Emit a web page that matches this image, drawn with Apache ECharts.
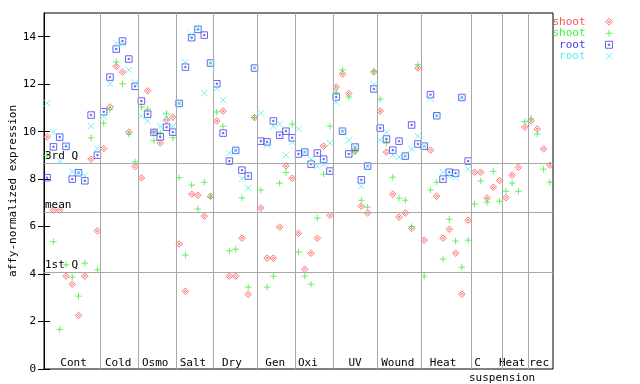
<!DOCTYPE html>
<html><head><meta charset="utf-8">
<script src="https://cdn.jsdelivr.net/npm/echarts@6/dist/echarts.min.js"></script>
<style>html,body{margin:0;padding:0;background:#fff}#c{width:640px;height:384px}</style>
</head><body><div id="c"></div>
<script>
// ---- data ----
const groupNames = ['Cont','Cold','Osmo','Salt','Dry','Gen','Oxi','UV','Wound','Heat','C','Heat','rec'];
const groupSizes = [9,6,6,6,7,6,6,7,7,8,5,4,4];
const xTickLabels = ['Cont','Cold','Osmo','Salt','Dry','Gen','Oxi','UV','Wound','Heat','C','Heat','rec'];
const xTickPositions = [4.7,11.8,17.7,23.7,29.9,36.8,42,49.5,56.3,63.5,69,74.5,78.8];
const xSubLabels = ['suspension'];
const xSubPositions = [72.9];
const yTicks = [0,2,4,6,8,10,12,14];
const seriesLabels = ['shoot','shoot','root','root'];
const refValues = [8.69, 6.62, 4.09];
const refLabels = ['3rd Q','mean','1st Q'];

const shootRed = [9.78,6.69,6.69,3.91,3.57,2.26,3.91,8.84,5.82,
 9.29,11.04,12.75,12.51,9.98,8.53,
 8.05,11.72,9.97,9.52,10.49,10.61,
 5.27,3.28,7.37,7.32,6.44,7.28,
 10.45,10.87,3.91,3.91,5.51,3.15,10.59,
 6.78,4.67,4.67,5.98,8.56,8.04,
 5.72,4.2,4.88,5.51,9.39,6.48,
 11.88,12.43,11.61,9.18,6.86,6.57,12.51,
 10.87,9.14,7.37,6.4,6.57,5.92,12.68,
 5.43,9.22,7.28,5.51,5.89,4.88,3.15,6.27,
 8.29,8.29,7.2,7.66,7.94,
 7.22,8.17,8.5,10.19,
 10.46,10.11,9.27,8.59];
const shootGreen = [9.0,5.36,1.67,4.39,3.87,3.07,4.46,9.74,4.18,
 10.36,10.93,12.94,12.02,9.9,8.73,
 11.04,10.95,9.62,9.94,10.77,9.74,
 8.06,4.8,7.75,6.74,7.87,7.24,
 10.83,10.23,4.98,5.05,7.21,3.45,10.6,
 7.54,3.45,3.91,7.83,8.28,10.32,
 4.93,3.91,3.57,6.36,8.21,10.23,
 11.67,12.6,11.46,9.15,7.11,6.82,12.55,
 11.37,9.52,8.08,7.2,7.11,6.0,12.82,
 3.91,7.54,7.87,4.63,6.31,5.39,4.29,5.43,
 6.95,7.92,7.03,8.33,7.07,
 7.49,7.83,7.49,10.42,
 10.54,9.9,8.42,7.87];
const rootBlue = [8.06,9.36,9.77,9.38,8.0,8.27,7.93,10.7,9.01,
 10.84,12.3,13.48,13.82,13.06,11.91,
 11.29,10.74,9.97,9.78,10.19,9.98,
 11.19,12.72,13.96,14.31,14.07,12.89,
 12.02,9.94,8.76,9.21,8.38,8.13,12.68,
 9.6,9.57,10.45,9.85,10.02,9.74,
 9.06,9.14,8.63,9.1,8.84,8.34,
 11.46,10.02,9.06,9.35,7.97,8.55,11.8,
 10.15,9.69,9.22,9.6,8.97,10.28,9.48,
 9.39,11.56,10.67,8.0,8.29,8.25,11.44,8.76,
 null,null,null,null,null,
 null,null,null,null,
 null,null,null,null];
const rootCyan = [11.2,9.98,8.77,9.43,8.32,8.27,8.14,10.23,9.29,
 10.64,12.02,13.73,13.69,12.6,12.06,
 10.66,10.45,9.95,10.23,10.61,10.23,
 11.19,12.92,14.1,14.35,11.63,12.89,
 11.82,11.33,9.1,9.21,8.02,7.62,12.7,
 10.78,9.43,10.23,10.32,9.01,9.56,
 10.11,9.14,8.84,8.55,8.63,9.52,
 11.25,10.02,9.64,9.35,7.7,8.55,11.98,
 9.65,9.98,9.01,8.93,8.97,9.27,9.81,
 9.39,11.39,10.67,8.29,8.13,8.08,11.44,8.42,
 null,null,null,null,null,
 null,null,null,null,
 null,null,null,null];

// ---- styling ----
const FONT = 'DejaVu Sans Mono';
const colors = ['#ff5050','#40ee40','#4040ee','#50eeee'];
const symbols = [
  'path://M5,0L10,5L5,10L0,5Z M5,3.2L6.8,5L5,6.8L3.2,5Z',
  'path://M5,0L5,10M0,5L10,5',
  'path://M0,0L10,0L10,10L0,10Z M4,4L6,4L6,6L4,6Z',
  'path://M0,0L10,10M10,0L0,10'
];
const seriesData = [shootRed, shootGreen, rootBlue, rootCyan];
const total = groupSizes.reduce((a,b)=>a+b,0);
const boundaries = [];
{ let c = 0; for (let k = 0; k < groupSizes.length - 1; k++) { c += groupSizes[k]; boundaries.push(c); } }

const chart = echarts.init(document.getElementById('c'), null, {renderer:'canvas'});
const ids = ['s0','s1','s2','s3'];

const series = [{
  type: 'scatter', name: 'lines', data: [], z: 1, silent: true,
  markLine: {
    silent: true, symbol: ['none','none'], animation: false,
    lineStyle: {color: '#a8a8a8', width: 1, type: 'solid'},
    label: {show: false},
    emphasis: {disabled: true},
    data: boundaries.map(b => ({xAxis: b})).concat(refValues.map((v,k) => ({
      yAxis: v,
      label: {show: true, position: 'insideStartTop', formatter: refLabels[k], distance: [1, 1],
              color: '#000', fontFamily: FONT, fontSize: 11}
    })))
  }
}];
seriesData.forEach((arr, s) => {
  series.push({
    type: 'scatter', name: ids[s], z: 2 + s,
    symbol: symbols[s], symbolSize: 6.5,
    itemStyle: {color: 'transparent', borderColor: colors[s], borderWidth: 1},
    data: arr.map((v, i) => v == null ? null : [i + 0.5, v]).filter(d => d)
  });
});

chart.setOption({
  animation: false,
  backgroundColor: '#fff',
  grid: {left: 44, right: 87, top: 13, bottom: 15, show: true, borderColor: '#000', borderWidth: 1,
         containLabel: false, outerBoundsMode: 'none'},
  legend: {
    orient: 'vertical', right: 27, top: 16, padding: 0, itemGap: 0,
    align: 'right', itemWidth: 7, itemHeight: 7, selectedMode: false,
    data: ids.map((id, s) => ({name: id, icon: symbols[s],
      itemStyle: {color: 'transparent', borderColor: colors[s], borderWidth: 1},
      textStyle: {color: colors[s]}})),
    formatter: name => seriesLabels[ids.indexOf(name)],
    textStyle: {fontFamily: FONT, fontSize: 11, lineHeight: 11.5, padding: [0, 15, 0, 0]}
  },
  xAxis: [{
    type: 'value', min: 0, max: total,
    axisLine: {show: false}, axisTick: {show: false}, splitLine: {show: false},
    axisLabel: {inside: true, margin: 0, customValues: xTickPositions,
      formatter: v => xTickLabels[xTickPositions.indexOf(v)] || '',
      color: '#000', fontFamily: FONT, fontSize: 11, showMinLabel: true, showMaxLabel: true}
  }, {
    type: 'value', min: 0, max: total, position: 'bottom',
    axisLine: {show: false}, axisTick: {show: false}, splitLine: {show: false},
    axisLabel: {margin: 4, customValues: xSubPositions,
      formatter: v => xSubLabels[xSubPositions.indexOf(v)] || '',
      color: '#000', fontFamily: FONT, fontSize: 11}
  }],
  yAxis: [{
    type: 'value', min: 0, max: 15, position: 'left',
    name: 'affy-normalized expression', nameLocation: 'middle', nameGap: 25, nameMoveOverlap: false,
    nameTextStyle: {color: '#000', fontFamily: FONT, fontSize: 11},
    axisLine: {show: true, lineStyle: {color: '#000'}},
    axisTick: {show: true, inside: true, length: 6, customValues: yTicks, lineStyle: {color: '#000'}},
    axisLabel: {margin: 8, customValues: yTicks, color: '#000', fontFamily: FONT, fontSize: 11},
    splitLine: {show: false}
  }, {
    type: 'value', min: 0, max: 15, position: 'right',
    axisLine: {show: true, lineStyle: {color: '#000'}},
    axisTick: {show: true, inside: true, length: 6, customValues: yTicks, lineStyle: {color: '#000'}},
    axisLabel: {show: false},
    splitLine: {show: false}
  }],
  series: series
});
</script></body></html>
